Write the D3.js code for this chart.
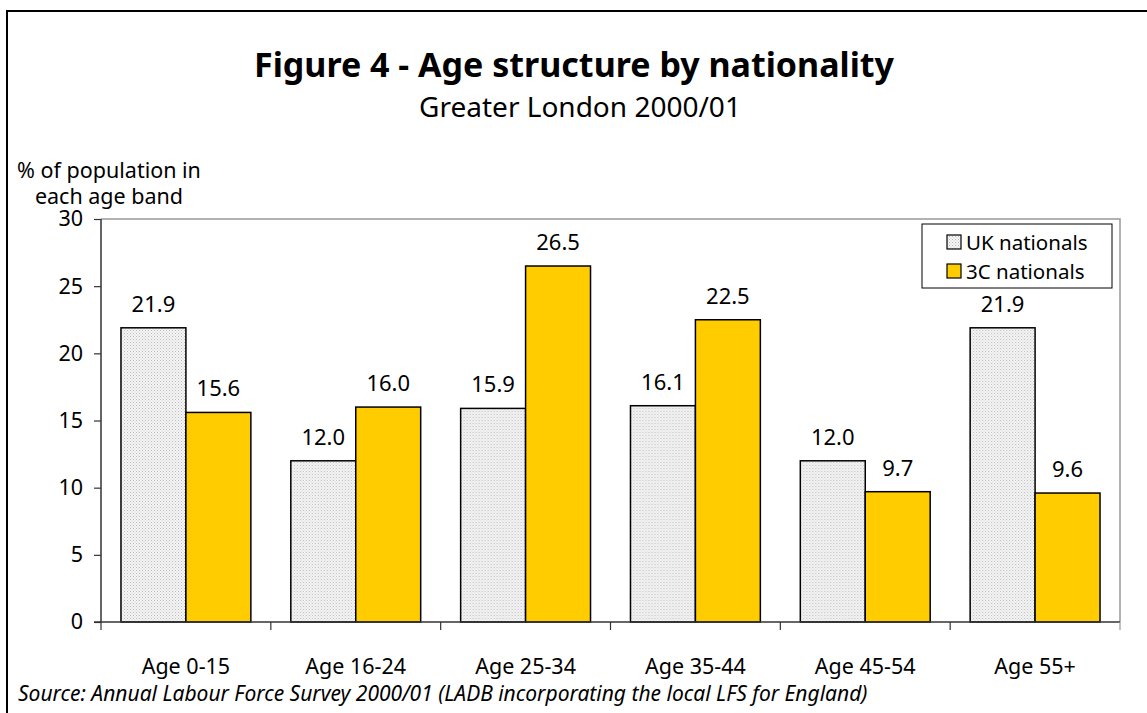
<!DOCTYPE html>
<html>
<head>
<meta charset="utf-8">
<script src="https://cdn.jsdelivr.net/npm/d3@7"></script>
<style>
  body { margin: 0; background: #fff; }
  svg { display: block; font-family: "Noto Sans", sans-serif; }
</style>
</head>
<body>
<div id="chart"></div>
<script>
// chart data
const categories = ['Age 0-15', 'Age 16-24', 'Age 25-34', 'Age 35-44', 'Age 45-54', 'Age 55+']
const seriesNames = ['UK nationals', '3C nationals']
const ukValues = [21.9, 12.0, 15.9, 16.1, 12.0, 21.9]
const c3Values = [15.6, 16.0, 26.5, 22.5, 9.7, 9.6]
const yTicks = [0, 5, 10, 15, 20, 25, 30]

const width = 1147
const height = 713
const margin = { left: 101, right: 27, top: 219, bottom: 91 }
const plotW = width - margin.left - margin.right
const plotH = height - margin.top - margin.bottom

const svg = d3.select('#chart').append('svg')
  .attr('width', width).attr('height', height)

// dotted texture for UK bars
const defs = svg.append('defs')
const pat = defs.append('pattern').attr('id', 'dots')
  .attr('width', 3).attr('height', 3).attr('patternUnits', 'userSpaceOnUse')
pat.append('rect').attr('width', 3).attr('height', 3).attr('fill', '#f4f4f4')
pat.append('rect').attr('width', 1).attr('height', 1).attr('fill', '#bcbcbc')
pat.append('rect').attr('x', 1.5).attr('y', 1.5).attr('width', 1).attr('height', 1).attr('fill', '#d2d2d2')

const colors = ['url(#dots)', '#ffcc00']

// outer frame
svg.append('rect').attr('x', 7).attr('y', 11).attr('width', width + 20).attr('height', height + 20)
  .attr('fill', 'none').attr('stroke', '#000').attr('stroke-width', 2)

// titles
svg.append('text').attr('x', 574).attr('y', 77).attr('text-anchor', 'middle')
  .style('font-size', '34px').style('font-weight', '700').text('Figure 4 - Age structure by nationality')
svg.append('text').attr('x', 580).attr('y', 117).attr('text-anchor', 'middle')
  .style('font-size', '28px').text('Greater London 2000/01')

svg.append('text').attr('x', 109).attr('y', 178).attr('text-anchor', 'middle')
  .style('font-size', '21.5px').text('% of population in')
svg.append('text').attr('x', 109).attr('y', 204).attr('text-anchor', 'middle')
  .style('font-size', '21.5px').text('each age band')

const x = d3.scaleBand().domain(categories).range([0, plotW])
  .paddingInner(40 / 170).paddingOuter(20 / 170)
const xs = d3.scaleBand().domain(seriesNames).range([0, x.bandwidth()])
const y = d3.scaleLinear().domain([0, 30]).range([plotH, 0])

const g = svg.append('g').attr('transform', `translate(${margin.left},${margin.top})`)

// plot area border (top and right, grey)
g.append('path').attr('d', `M0,0H${plotW}V${plotH}`)
  .attr('fill', 'none').attr('stroke', '#999').attr('stroke-width', 1.5)

const data = categories.map((c, i) => ({ cat: c, vals: [ukValues[i], c3Values[i]] }))

const groups = g.selectAll('.grp').data(data).join('g')
  .attr('transform', d => `translate(${x(d.cat)},0)`)

groups.selectAll('rect').data(d => d.vals.map((v, j) => ({ name: seriesNames[j], v, j }))).join('rect')
  .attr('x', d => xs(d.name))
  .attr('y', d => y(d.v))
  .attr('width', xs.bandwidth())
  .attr('height', d => plotH - y(d.v))
  .attr('fill', d => colors[d.j])
  .attr('stroke', '#000').attr('stroke-width', 1.5)

groups.selectAll('text').data(d => d.vals.map((v, j) => ({ name: seriesNames[j], v }))).join('text')
  .attr('x', d => xs(d.name) + xs.bandwidth() / 2)
  .attr('y', d => y(d.v) - 16)
  .attr('text-anchor', 'middle')
  .style('font-size', '22px')
  .text(d => d.v.toFixed(1))

// y axis
const yAxis = g.append('g').call(d3.axisLeft(y).tickValues(yTicks).tickSize(7).tickPadding(11))
yAxis.select('.domain').attr('stroke', '#333').attr('stroke-width', 1.5).attr('d', `M0,0V${plotH}`)
yAxis.selectAll('.tick line').attr('stroke', '#333').attr('stroke-width', 1.2)
yAxis.selectAll('.tick text').style('font-size', '21.5px').attr('fill', '#000')
  .style('font-family', '"Noto Sans", sans-serif')

// x axis with ticks between categories
const step = x.step()
const xTicks = d3.range(categories.length + 1).map(i => i * step)
g.append('line').attr('x1', -7).attr('x2', plotW).attr('y1', plotH).attr('y2', plotH)
  .attr('stroke', '#333').attr('stroke-width', 1.5)
g.selectAll('.xtick').data(xTicks).join('line')
  .attr('x1', d => d).attr('x2', d => d).attr('y1', plotH).attr('y2', plotH + 8)
  .attr('stroke', d => d === plotW ? '#999' : '#333').attr('stroke-width', 1.2)
g.selectAll('.xlab').data(categories).join('text')
  .attr('x', d => x(d) + x.bandwidth() / 2)
  .attr('y', plotH + 52)
  .attr('text-anchor', 'middle')
  .style('font-size', '21.5px')
  .text(d => d)

// legend
const lg = svg.append('g').attr('transform', 'translate(922,224)')
lg.append('rect').attr('width', 190).attr('height', 64).attr('fill', '#fff')
  .attr('stroke', '#000').attr('stroke-width', 1)
seriesNames.forEach((n, i) => {
  lg.append('rect').attr('x', 25).attr('y', 11 + i * 29).attr('width', 14).attr('height', 14)
    .attr('fill', colors[i]).attr('stroke', '#000').attr('stroke-width', 1.2)
  lg.append('text').attr('x', 44).attr('y', 26 + i * 29).style('font-size', '20.5px').text(n)
})

// source
svg.append('text').attr('x', 18).attr('y', 701).style('font-size', '21px')
  .style('font-style', 'italic')
  .text('Source: Annual Labour Force Survey 2000/01 (LADB incorporating the local LFS for England)')
</script>
</body>
</html>
